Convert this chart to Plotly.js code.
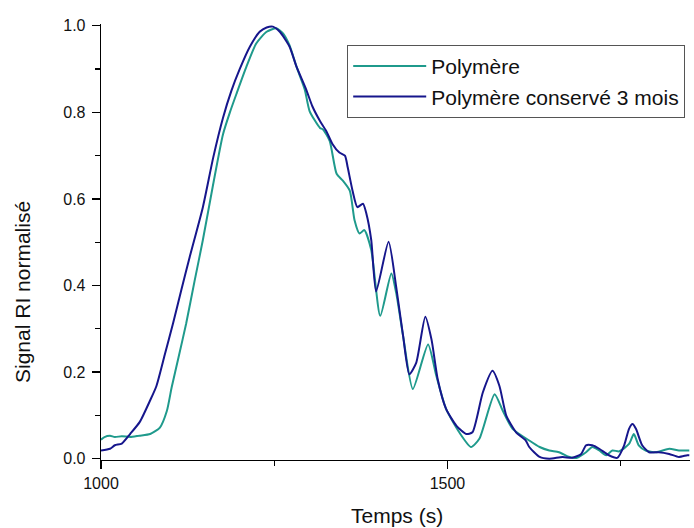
<!DOCTYPE html>
<html>
<head>
<meta charset="utf-8">
<script src="https://cdn.plot.ly/plotly-3.0.1.min.js"></script>
<style>html,body{margin:0;padding:0;background:#fff;}#chart{width:694px;height:528px;}</style>
</head>
<body>
<div id="chart"></div>
<script>
// Polymère
const xPoly = [1000,1005,1013,1020,1030,1042,1055,1071,1085,1095,1102,1112,1123,1135,1147,1162,1176,1186,1196,1210,1224,1239,1253,1263,1272,1282,1294,1301,1316,1320,1330,1340,1349,1359,1366,1373,1380,1390,1403,1419,1426,1436,1450,1472,1484,1498,1517,1534,1546,1568,1580,1594,1618,1633,1647,1661,1676,1687,1700,1709,1719,1729,1738,1748,1762,1769,1776,1786,1801,1820,1834,1849];
const yPoly = [0.044,0.05,0.053,0.05,0.052,0.05,0.053,0.057,0.072,0.11,0.165,0.235,0.313,0.41,0.505,0.635,0.749,0.80,0.845,0.906,0.959,0.986,0.994,0.982,0.955,0.906,0.853,0.803,0.764,0.761,0.734,0.658,0.642,0.619,0.55,0.52,0.528,0.482,0.33,0.428,0.383,0.283,0.161,0.264,0.191,0.115,0.061,0.027,0.046,0.149,0.11,0.069,0.042,0.027,0.019,0.015,0.004,0.002,0.015,0.027,0.019,0.008,0.019,0.017,0.034,0.057,0.031,0.019,0.015,0.023,0.019,0.019];
// Polymère conservé 3 mois
const xKept = [1000,1013,1020,1030,1042,1056,1071,1080,1092,1104,1116,1128,1147,1162,1176,1188,1200,1215,1229,1239,1248,1258,1272,1282,1296,1305,1316,1325,1334,1344,1352,1356,1363,1370,1378,1383,1390,1397,1415,1426,1436,1445,1455,1468,1477,1486,1498,1513,1527,1536,1551,1565,1575,1585,1599,1613,1618,1633,1647,1666,1680,1693,1700,1709,1719,1733,1745,1755,1762,1767,1772,1781,1791,1805,1820,1834,1846,1849];
const yKept = [0.019,0.023,0.031,0.035,0.057,0.085,0.135,0.168,0.24,0.313,0.39,0.466,0.581,0.696,0.787,0.849,0.899,0.952,0.986,0.996,0.998,0.986,0.952,0.906,0.853,0.814,0.78,0.757,0.727,0.707,0.70,0.673,0.619,0.581,0.589,0.566,0.505,0.386,0.501,0.397,0.283,0.195,0.222,0.328,0.275,0.183,0.115,0.076,0.057,0.061,0.153,0.203,0.168,0.099,0.061,0.042,0.027,0.004,0.0,0.004,0.002,0.011,0.031,0.031,0.023,0.008,0.002,0.031,0.069,0.08,0.069,0.031,0.015,0.015,0.011,0.004,0.008,0.008];
const seriesNames = ["Polymère", "Polymère conservé 3 mois"];
const xTicks = [1000, 1500];
const yTicks = [0, 0.2, 0.4, 0.6, 0.8, 1.0];
const yTickText = ["0.0", "0.2", "0.4", "0.6", "0.8", "1.0"];

const FONT = "Liberation Sans, Arial, sans-serif";
const traces = [
  {x: xPoly, y: yPoly, name: seriesNames[0], mode: "lines", line: {color: "#1f9a8c", width: 2, shape: "spline", smoothing: 0.6}},
  {x: xKept, y: yKept, name: seriesNames[1], mode: "lines", line: {color: "#16168c", width: 2, shape: "spline", smoothing: 0.6}}
];
const layout = {
  width: 694, height: 528,
  margin: {l: 101, r: 4, t: 24, b: 68},
  paper_bgcolor: "#fff", plot_bgcolor: "#fff",
  font: {family: FONT, color: "#111", size: 16},
  showlegend: true,
  legend: {x: 0.418, y: 0.952, xanchor: "left", yanchor: "top", bordercolor: "#555", borderwidth: 1,
           bgcolor: "#fff", font: {family: FONT, size: 21, color: "#111"}, tracegroupgap: 0, itemwidth: 73},
  xaxis: {range: [1000, 1850], tickvals: xTicks, ticktext: xTicks.map(String), ticks: "outside", ticklen: 8, tickwidth: 1.3,
          tickcolor: "#000", showline: true, linecolor: "#000", linewidth: 1.3, showgrid: false, zeroline: false,
          minor: {tickvals: [1250, 1750], ticklen: 5, tickwidth: 1.3, tickcolor: "#000", ticks: "outside"},
          tickfont: {family: FONT, size: 16, color: "#111"}},
  yaxis: {range: [-0.003, 1.004], tickvals: yTicks, ticktext: yTickText, ticks: "outside", ticklen: 8, tickwidth: 1.3,
          tickcolor: "#000", showline: true, linecolor: "#000", linewidth: 1.3, showgrid: false, zeroline: false,
          ticklabelstandoff: 3,
          minor: {tickvals: [0.1, 0.3, 0.5, 0.7, 0.9], ticklen: 5, tickwidth: 1.3, tickcolor: "#000", ticks: "outside"},
          tickfont: {family: FONT, size: 16, color: "#111"}},
  annotations: [
    {text: "Temps (s)", xref: "paper", yref: "paper", x: (397-101)/589, y: (460-515)/436, xanchor: "center", yanchor: "middle",
     showarrow: false, font: {family: FONT, size: 21, color: "#111"}},
    {text: "Signal RI normalisé", xref: "paper", yref: "paper", x: (22-101)/589, y: (460-292)/436, xanchor: "center", yanchor: "middle",
     textangle: -90, showarrow: false, font: {family: FONT, size: 21, color: "#111"}}
  ]
};
Plotly.newPlot("chart", traces, layout, {displayModeBar: false, staticPlot: true});
</script>
</body>
</html>
